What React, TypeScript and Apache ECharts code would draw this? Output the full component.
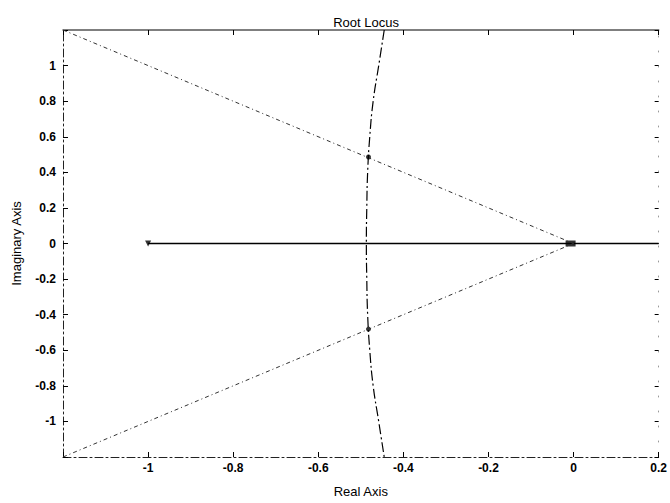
import React, { useEffect, useRef } from 'react';
import * as echarts from 'echarts';

// ---- data ----
const xRange = [-1.2, 0.2];
const yRange = [-1.2, 1.2];
const tickStep = 0.2;

// Real-axis locus segment (solid)
const realAxisLocus = [[-1, 0], [0.2, 0]];
// Constant damping lines (zeta = 0.707), dash-dot
const dampingUpper = [[-1.2, 1.2], [0, 0]];
const dampingLower = [[-1.2, -1.2], [0, 0]];
// Complex branch near Re = -0.48
const branchImag = [1.2, 1.0, 0.8, 0.6, 0.4, 0.2, 0, -0.2, -0.4, -0.6, -0.8, -1.0, -1.2];
const branchReal = [-0.445, -0.458, -0.471, -0.479, -0.484, -0.486, -0.487, -0.486, -0.484, -0.479, -0.471, -0.458, -0.445];
// Selected closed-loop poles
const selectedPoles = [[-0.482, 0.486], [-0.482, -0.481]];
// Open-loop poles
const originPole = [[-0.007, 0]];
const leftPole = [[-1, 0]];

const FONT = 'Liberation Sans, Arial, sans-serif';

export default function App() {
  const ref = useRef<HTMLDivElement>(null);

  useEffect(() => {
    document.body.style.margin = '0';
    if (!ref.current) return;
    const chart = echarts.init(ref.current, undefined, { renderer: 'svg' });

    const fmt = (v: number) =>
      Math.abs(Math.abs(v) - 1.2) < 1e-6 ? '' : String(Math.round(v * 10) / 10);

    const branch = branchImag.map((y, i) => [branchReal[i], y]);

    const labelStyle = {
      color: '#000',
      fontSize: 12,
      fontFamily: FONT,
      fontWeight: 'bold' as const,
    };

    chart.setOption({
      animation: false,
      backgroundColor: '#fff',
      title: {
        text: 'Root Locus',
        left: 361,
        top: 11,
        textAlign: 'center',
        textStyle: { color: '#000', fontSize: 13, fontWeight: 'normal', fontFamily: FONT },
      },
      grid: { left: 63, right: 11, top: 30, bottom: 46 },
      xAxis: [
        {
          type: 'value',
          position: 'bottom',
          min: xRange[0],
          max: xRange[1],
          interval: tickStep,
          name: 'Real Axis',
          nameLocation: 'middle',
          nameGap: 28,
          nameTextStyle: { color: '#000', fontSize: 13, fontFamily: FONT },
          axisLine: { show: true, onZero: false, lineStyle: { color: '#222', width: 1, type: [8, 3, 2, 3] } },
          axisTick: { show: true, inside: true, length: 5, lineStyle: { color: '#000' } },
          axisLabel: { ...labelStyle, margin: 5, formatter: fmt },
          splitLine: { show: false },
        },
        {
          type: 'value',
          position: 'top',
          min: xRange[0],
          max: xRange[1],
          interval: tickStep,
          axisLine: { show: true, onZero: false, lineStyle: { color: '#555', width: 1.5 } },
          axisTick: { show: true, inside: true, length: 5, lineStyle: { color: '#000' } },
          axisLabel: { show: false },
          splitLine: { show: false },
        },
      ],
      yAxis: [
        {
          type: 'value',
          position: 'left',
          min: yRange[0],
          max: yRange[1],
          interval: tickStep,
          name: 'Imaginary Axis',
          nameLocation: 'middle',
          nameGap: 40,
          nameTextStyle: { color: '#000', fontSize: 13, fontFamily: FONT },
          axisLine: { show: true, onZero: false, lineStyle: { color: '#222', width: 1, type: [8, 3, 2, 3] } },
          axisTick: { show: true, inside: true, length: 5, lineStyle: { color: '#000' } },
          axisLabel: { ...labelStyle, margin: 7, formatter: fmt },
          splitLine: { show: false },
        },
        {
          type: 'value',
          position: 'right',
          min: yRange[0],
          max: yRange[1],
          interval: tickStep,
          axisLine: { show: true, onZero: false, lineStyle: { color: '#999', width: 1, type: [1, 14] } },
          axisTick: { show: true, inside: true, length: 4, lineStyle: { color: '#000' } },
          axisLabel: { show: false },
          splitLine: { show: false },
        },
      ],
      series: [
        {
          type: 'line',
          data: realAxisLocus,
          symbol: 'none',
          lineStyle: { color: '#000', width: 1.5 },
        },
        {
          type: 'line',
          data: dampingUpper,
          symbol: 'none',
          lineStyle: { color: '#333', width: 1, type: [4, 3, 1, 3] },
        },
        {
          type: 'line',
          data: dampingLower,
          symbol: 'none',
          lineStyle: { color: '#333', width: 1, type: [4, 3, 1, 3] },
        },
        {
          type: 'line',
          data: branch,
          symbol: 'none',
          smooth: true,
          lineStyle: { color: '#000', width: 1.2, type: [10, 3, 2, 3] },
        },
        {
          type: 'scatter',
          data: selectedPoles,
          symbol: 'circle',
          symbolSize: 5,
          itemStyle: { color: '#000' },
        },
        {
          type: 'scatter',
          data: originPole,
          symbol: 'rect',
          symbolSize: [10, 6],
          itemStyle: { color: '#000' },
        },
        {
          type: 'scatter',
          data: leftPole,
          symbol: 'triangle',
          symbolRotate: 180,
          symbolSize: 6,
          itemStyle: { color: '#000' },
        },
      ],
    });

    return () => chart.dispose();
  }, []);

  return <div ref={ref} style={{ width: 670, height: 503 }} />;
}
